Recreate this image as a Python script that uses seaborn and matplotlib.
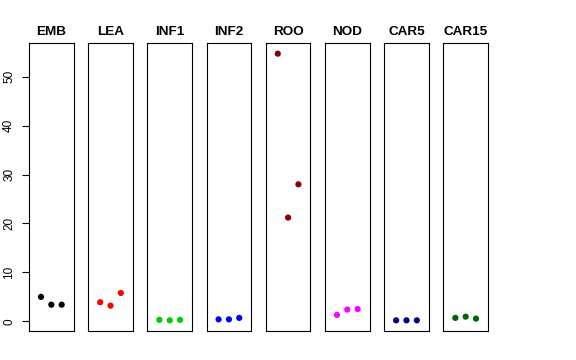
import matplotlib
matplotlib.use("Agg")
import matplotlib.pyplot as plt
import seaborn as sns

# tissues and their three replicate values
tissues = ['EMB', 'LEA', 'INF1', 'INF2', 'ROO', 'NOD', 'CAR5', 'CAR15']
rep = [1, 2, 3]
values = [
    [5.0, 3.4, 3.4],
    [3.9, 3.2, 5.8],
    [0.3, 0.2, 0.3],
    [0.4, 0.4, 0.7],
    [54.7, 21.2, 28.0],
    [1.3, 2.4, 2.5],
    [0.2, 0.2, 0.2],
    [0.7, 0.95, 0.55],
]
colors = ['black', 'red', '#00CD00', 'blue', '#8B0000', 'magenta', '#00008B', '#006400']
yticks = [0, 10, 20, 30, 40, 50]

sns.set_style("white")
plt.rcParams['font.family'] = ['Liberation Sans', 'DejaVu Sans']
plt.rcParams['text.color'] = 'black'
plt.rcParams['ytick.color'] = 'black'
plt.rcParams['axes.titlecolor'] = 'black'

fig, axes = plt.subplots(1, 8, figsize=(5.76, 3.6), dpi=100, sharey=True)
fig.subplots_adjust(left=29/576, right=488/576, bottom=29/360, top=317/360, wspace=0.326)

allv = [v for vals in values for v in vals]
lo, hi = min(allv), max(allv)
ext = (hi - lo) * 0.04

for ax, name, vals, col in zip(axes, tissues, values, colors):
    sns.scatterplot(x=rep, y=vals, ax=ax, color=col, s=20, edgecolor='none', linewidth=0)
    ax.set_xlim(-0.16, 4.16)
    ax.set_ylim(lo - ext, hi + ext)
    ax.set_xticks([])
    ax.set_title(name, fontsize=9.7, fontweight='bold', pad=6, color='black')
    ax.set_xlabel('')
    ax.set_ylabel('')
    for sp in ax.spines.values():
        sp.set_visible(True)
        sp.set_color('black')
        sp.set_linewidth(0.8)
    ax.tick_params(left=False, labelleft=False)

axes[0].set_yticks(yticks)
axes[0].tick_params(axis='y', left=True, labelleft=True, length=5, width=0.8,
                    pad=5, labelsize=8.5, color='black', labelcolor='black')
for lab in axes[0].get_yticklabels():
    lab.set_rotation(90)
    lab.set_va('center')

fig.savefig('out.png', dpi=100)
